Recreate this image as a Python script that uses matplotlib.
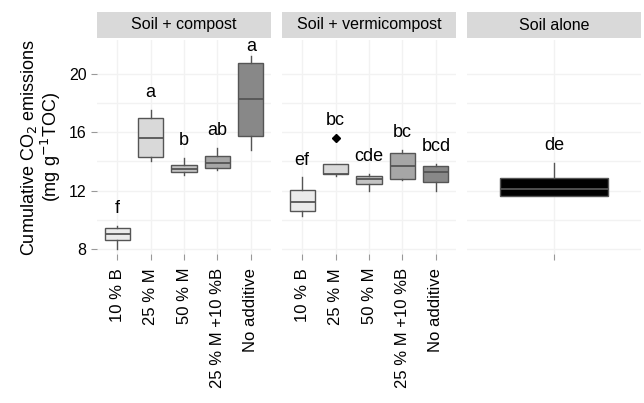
import matplotlib
matplotlib.use("Agg")
import matplotlib.pyplot as plt

plt.rcParams["font.family"] = ["Liberation Sans", "DejaVu Sans"]

panels = ["Soil + compost", "Soil + vermicompost", "Soil alone"]
treatments = ["10 % B", "25 % M", "50 % M", "25 % M +10 %B", "No additive"]
fills = ["#ebebeb", "#d9d9d9", "#c4c4c4", "#a6a6a6", "#888888"]

# box stats per panel: (whislo, q1, med, q3, whishi)
compost = [(8.0, 8.62, 9.0, 9.42, 9.6),
           (14.0, 14.31, 15.58, 16.94, 17.53),
           (13.06, 13.3, 13.5, 13.75, 14.25),
           (13.4, 13.55, 13.9, 14.39, 14.94),
           (14.75, 15.74, 18.29, 20.74, 21.2)]
compost_letters = ["f", "a", "b", "ab", "a"]
vermi = [(10.27, 10.57, 11.2, 12.02, 12.9),
         (13.0, 13.1, 13.15, 13.8, 13.8),
         (11.96, 12.46, 12.76, 13.0, 13.15),
         (12.72, 12.82, 13.65, 14.55, 14.78),
         (12.0, 12.61, 13.25, 13.71, 13.85)]
vermi_letters = ["ef", "bc", "cde", "bc", "bcd"]
vermi_outliers = [[], [15.58], [], [], []]
alone = [(11.64, 11.64, 12.08, 12.84, 13.9)]
alone_letters = ["de"]

fig = plt.figure(figsize=(6.44, 4.03), dpi=100)
W, H = 644, 403
lefts = [97, 282, 467]
pw = 174
top, bottom = 40, 254
strip_top = 12

def stats_list(data, fliers=None):
    out = []
    for i, (lo, q1, med, q3, hi) in enumerate(data):
        out.append(dict(whislo=lo, q1=q1, med=med, q3=q3, whishi=hi,
                        fliers=(fliers[i] if fliers else [])))
    return out

sets = [(compost, compost_letters, None, treatments, fills),
        (vermi, vermi_letters, vermi_outliers, treatments, fills),
        (alone, alone_letters, None, [""], ["#000000"])]

for k, (data, letters, fl, labels, cols) in enumerate(sets):
    # strip
    sax = fig.add_axes([lefts[k] / W, 1 - 38 / H, pw / W, (38 - strip_top) / H])
    sax.set_zorder(0)
    sax.set_facecolor("#d9d9d9")
    sax.set_xticks([])
    sax.set_yticks([])
    for s in sax.spines.values():
        s.set_visible(False)
    sax.text(0.5, 0.5, panels[k], ha="center", va="center", fontsize=11.5,
             transform=sax.transAxes)

    ax = fig.add_axes([lefts[k] / W, 1 - bottom / H, pw / W, (bottom - top) / H])
    ax.set_zorder(1)
    ax.patch.set_alpha(0)
    st = stats_list(data, fl)
    pos = list(range(1, len(data) + 1))
    res = ax.bxp(st, positions=pos, widths=0.75, patch_artist=True, showcaps=False,
                 boxprops=dict(edgecolor="#555555", linewidth=1.0),
                 medianprops=dict(color="#555555", linewidth=1.3),
                 whiskerprops=dict(color="#555555", linewidth=1.0),
                 flierprops=dict(marker="D", markersize=4, markerfacecolor="black",
                                 markeredgecolor="black"))
    for patch, c in zip(res["boxes"], cols):
        patch.set_facecolor(c)
    for i, (p, d, lt) in enumerate(zip(pos, data, letters)):
        top_val = max([d[4]] + (fl[i] if fl else []))
        off = 0.6 if top_val < 20 else 0.1
        ax.text(p, top_val + off, lt, ha="center", va="bottom", fontsize=13,
                clip_on=False)
    ax.set_xlim(0.4, len(data) + 0.6)
    ax.set_ylim(7.66, 22.3)
    ax.set_yticks([8, 12, 16, 20])
    ax.set_yticks([10, 14, 18], minor=True)
    ax.grid(True, which="both", color="#f2f2f2", linewidth=1)
    ax.set_axisbelow(True)
    for s in ax.spines.values():
        s.set_visible(False)
    ax.set_xticks(pos)
    ax.set_xticklabels(labels, rotation=90, fontsize=12)
    ax.tick_params(axis="both", colors="#999999", labelcolor="black", length=4)
    ax.tick_params(axis="x", pad=6)
    ax.tick_params(axis="y", which="minor", length=0)
    if k == 0:
        ax.tick_params(axis="y", labelsize=11.5)
        ax.set_ylabel("Cumulative CO$_2$ emissions\n(mg g$^{-1}$TOC)", fontsize=13,
                      linespacing=1.0)
    else:
        ax.tick_params(axis="y", left=False, labelleft=False)

fig.savefig("out.png", dpi=100)
